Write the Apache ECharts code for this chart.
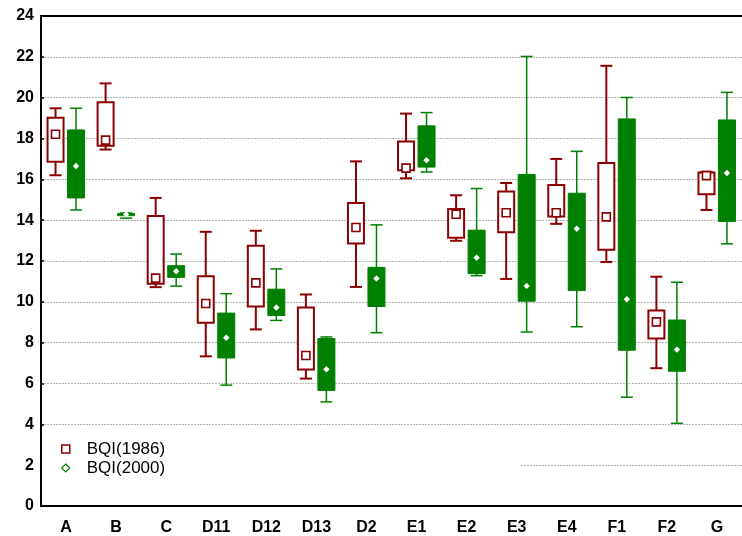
<!DOCTYPE html>
<html>
<head>
<meta charset="utf-8">
<script src="https://cdn.jsdelivr.net/npm/echarts@6/dist/echarts.min.js"></script>
<style>
  html, body { margin: 0; padding: 0; background: #fff; }
  #chart { width: 742px; height: 536px; }
</style>
</head>
<body>
<div id="chart"></div>
<script>
// Sampling stations
const categories = ['A', 'B', 'C', 'D11', 'D12', 'D13', 'D2', 'E1', 'E2', 'E3', 'E4', 'F1', 'F2', 'G'];

// BQI per station: [lower whisker, box bottom, centre marker, box top, upper whisker]
const bqi1986 = [
  [16.2, 16.86, 18.21, 19.02, 19.48],
  [17.46, 17.64, 17.92, 19.77, 20.7],
  [10.72, 10.88, 11.16, 14.21, 15.09],
  [7.33, 8.98, 9.92, 11.25, 13.43],
  [8.65, 9.77, 10.93, 12.75, 13.48],
  [6.24, 6.68, 7.37, 9.72, 10.36],
  [10.73, 12.86, 13.64, 14.84, 16.88],
  [16.05, 16.44, 16.55, 17.85, 19.22],
  [12.99, 13.14, 14.29, 14.55, 15.22],
  [11.12, 13.41, 14.36, 15.4, 15.82],
  [13.82, 14.18, 14.36, 15.72, 17.0],
  [11.95, 12.55, 14.16, 16.8, 21.56],
  [6.75, 8.21, 9.02, 9.58, 11.23],
  [14.5, 15.27, 16.18, 16.33, 16.37]
];

const bqi2000 = [
  [14.5, 15.09, 16.65, 18.42, 19.48],
  [14.1, 14.22, 14.28, 14.33, 14.35],
  [10.77, 11.2, 11.5, 11.77, 12.34],
  [5.92, 7.25, 8.24, 9.45, 10.4],
  [9.09, 9.33, 9.72, 10.62, 11.61],
  [5.1, 5.66, 6.7, 8.2, 8.28],
  [8.49, 9.77, 11.14, 11.69, 13.77],
  [16.36, 16.6, 16.94, 18.62, 19.27],
  [11.28, 11.38, 12.16, 13.51, 15.55],
  [8.52, 10.03, 10.78, 16.24, 22.02],
  [8.78, 10.55, 13.58, 15.32, 17.37],
  [5.33, 7.63, 10.13, 18.96, 20.01],
  [4.05, 6.6, 7.66, 9.11, 10.96],
  [12.84, 13.94, 16.31, 18.91, 20.26]
];

const yTicks = { min: 0, max: 24, step: 2 };

const RED = '#8b0000';
const GREEN = '#008000';

function withIndex(rows) {
  return rows.map((r, i) => [i].concat(r));
}

// Box-and-whisker glyph drawn on the category/value scales
function makeRenderer(opts) {
  return function (params, api) {
    const i = api.value(0);
    const lo = api.coord([i, api.value(1)]);
    const q1 = api.coord([i, api.value(2)]);
    const mid = api.coord([i, api.value(3)]);
    const q3 = api.coord([i, api.value(4)]);
    const hi = api.coord([i, api.value(5)]);
    const cx = lo[0] + opts.offset;
    const half = opts.boxWidth / 2;
    const cap = opts.capWidth / 2;
    const lw = opts.lineWidth;
    const lineStyle = { stroke: opts.color, lineWidth: lw };
    const children = [
      { type: 'line', shape: { x1: cx, y1: hi[1], x2: cx, y2: q3[1] }, style: lineStyle },
      { type: 'line', shape: { x1: cx, y1: q1[1], x2: cx, y2: lo[1] }, style: lineStyle },
      { type: 'line', shape: { x1: cx - cap, y1: hi[1], x2: cx + cap, y2: hi[1] }, style: lineStyle },
      { type: 'line', shape: { x1: cx - cap, y1: lo[1], x2: cx + cap, y2: lo[1] }, style: lineStyle },
      {
        type: 'rect',
        shape: { x: cx - half, y: q3[1], width: opts.boxWidth, height: Math.max(q1[1] - q3[1], 1) },
        style: opts.filled
          ? { fill: opts.color, stroke: opts.color, lineWidth: 1 }
          : { fill: '#fff', stroke: opts.color, lineWidth: 2 }
      }
    ];
    if (opts.filled) {
      const d = 3.2;
      children.push({
        type: 'polygon',
        shape: { points: [[cx, mid[1] - d], [cx + d, mid[1]], [cx, mid[1] + d], [cx - d, mid[1]]] },
        style: { fill: '#fff' }
      });
    } else {
      const s = 8;
      children.push({
        type: 'rect',
        shape: { x: cx - s / 2, y: mid[1] - s / 2, width: s, height: s },
        style: { fill: '#fff', stroke: opts.color, lineWidth: 1.6 }
      });
    }
    return { type: 'group', children: children };
  };
}

const chart = echarts.init(document.getElementById('chart'));

const labelFont = { color: '#000', fontSize: 16, fontWeight: 'bold', fontFamily: 'Liberation Sans, Arial, sans-serif' };

chart.setOption({
  animation: false,
  backgroundColor: '#fff',
  grid: { left: 41, top: 16, width: 714, height: 491, containLabel: false },
  legend: {
    orient: 'vertical',
    left: 61,
    top: 440,
    padding: 0,
    itemGap: 1,
    itemWidth: 8,
    itemHeight: 8,
    textStyle: { fontSize: 17, lineHeight: 18, color: '#000', fontFamily: 'Liberation Sans, Arial, sans-serif', padding: [0, 0, 0, 12] },
    data: [
      { name: 'BQI(1986)', icon: 'rect', itemStyle: { color: '#fff', borderColor: RED, borderWidth: 1.5 } },
      { name: 'BQI(2000)', icon: 'diamond', itemStyle: { color: '#fff', borderColor: GREEN, borderWidth: 1.2 } }
    ]
  },
  graphic: [
    {
      type: 'rect',
      z: 1,
      shape: { x: 42, y: 436, width: 478, height: 62 },
      style: { fill: '#fff' }
    }
  ],
  xAxis: [
    {
      type: 'category',
      data: categories,
      position: 'bottom',
      boundaryGap: true,
      axisLine: { lineStyle: { color: '#000', width: 2 } },
      axisTick: { alignWithLabel: true, inside: true, length: 4, lineStyle: { color: '#000', width: 1.5 } },
      axisLabel: Object.assign({ margin: 14, interval: 0 }, labelFont),
      splitLine: { show: false }
    },
    {
      type: 'category',
      data: categories,
      position: 'top',
      boundaryGap: true,
      axisLine: { lineStyle: { color: '#000', width: 2 } },
      axisTick: { alignWithLabel: true, inside: true, length: 4, lineStyle: { color: '#000', width: 1.5 } },
      axisLabel: { show: false },
      splitLine: { show: false }
    }
  ],
  yAxis: {
    type: 'value',
    min: yTicks.min,
    max: yTicks.max,
    interval: yTicks.step,
    axisLine: { show: true, lineStyle: { color: '#000', width: 2 } },
    axisTick: { show: true, inside: true, length: 3, lineStyle: { color: '#000', width: 1.5 } },
    axisLabel: Object.assign({ margin: 7 }, labelFont),
    splitLine: { show: true, lineStyle: { color: '#b5b5b5', width: 1, type: [2, 1] } }
  },
  series: [
    {
      name: 'BQI(1986)',
      type: 'custom',
      xAxisIndex: 0,
      itemStyle: { color: RED },
      renderItem: makeRenderer({ offset: -10.5, boxWidth: 16, capWidth: 12, lineWidth: 2, color: RED, filled: false }),
      encode: { x: 0, y: [1, 2, 3, 4, 5] },
      data: withIndex(bqi1986),
      z: 3
    },
    {
      name: 'BQI(2000)',
      type: 'custom',
      xAxisIndex: 0,
      itemStyle: { color: GREEN },
      renderItem: makeRenderer({ offset: 10, boxWidth: 17, capWidth: 12, lineWidth: 1.5, color: GREEN, filled: true }),
      encode: { x: 0, y: [1, 2, 3, 4, 5] },
      data: withIndex(bqi2000),
      z: 3
    }
  ]
});
</script>
</body>
</html>
